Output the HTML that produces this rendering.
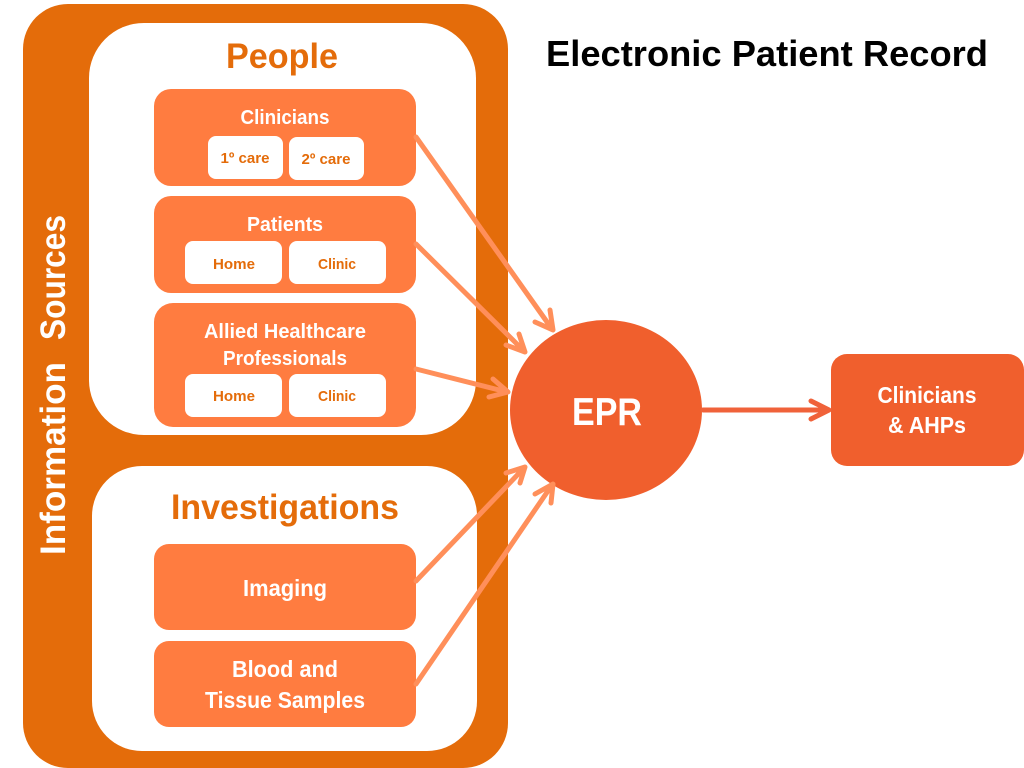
<!DOCTYPE html>
<html><head><meta charset="utf-8"><style>
html,body{margin:0;padding:0;background:#fff}
svg{display:block}
text{font-family:"Liberation Sans",sans-serif;font-weight:bold;text-anchor:middle}
.w{fill:#fff}.o{fill:#E46C0A}
</style></head><body>
<svg width="1024" height="768" viewBox="0 0 1024 768" xmlns="http://www.w3.org/2000/svg">
<rect x="23" y="4" width="485" height="764" rx="45" fill="#E46C0A"/>
<rect x="89" y="23" width="387" height="412" rx="55" fill="#fff"/>
<rect x="92" y="466" width="385" height="285" rx="50" fill="#fff"/>
<g fill="#FF7C40">
<rect x="154" y="89" width="262" height="97" rx="17"/>
<rect x="154" y="196" width="262" height="97" rx="17"/>
<rect x="154" y="303" width="262" height="124" rx="19"/>
<rect x="154" y="544" width="262" height="86" rx="15"/>
<rect x="154" y="641" width="262" height="86" rx="15"/>
</g>
<g fill="#fff">
<rect x="208" y="136" width="75" height="43" rx="8"/>
<rect x="289" y="137" width="75" height="43" rx="8"/>
<rect x="185" y="241" width="97" height="43" rx="8"/>
<rect x="289" y="241" width="97" height="43" rx="8"/>
<rect x="185" y="374" width="97" height="43" rx="8"/>
<rect x="289" y="374" width="97" height="43" rx="8"/>
</g>
<ellipse cx="606" cy="410" rx="96" ry="90" fill="#F05F2D"/>
<rect x="831" y="354" width="193" height="112" rx="16" fill="#F05F2D"/>
<g fill="none" stroke="#FF8F5A" stroke-width="5" stroke-linecap="round" stroke-linejoin="round">
<path d="M416 137L552 329M535 322L553 330L550 310"/>
<path d="M416 244L524 351M506 345L525 352L519 334"/>
<path d="M416 369L507 392M489 397L508 392L493 379"/>
<path d="M416 581L524 468M506 473L525 467L520 483"/>
<path d="M416 684L552 485M535 494L553 484L551 503"/>
</g>
<path d="M703 410L828 410M811 401L829 410L811 419" fill="none" stroke="#F0623A" stroke-width="5" stroke-linecap="round" stroke-linejoin="round"/>
<text x="282" y="68" font-size="35" textLength="112" lengthAdjust="spacingAndGlyphs" class="o">People</text>
<text x="285" y="519" font-size="35" textLength="228" lengthAdjust="spacingAndGlyphs" class="o">Investigations</text>
<text x="767" y="66" font-size="36" textLength="442" lengthAdjust="spacingAndGlyphs" fill="#000">Electronic Patient Record</text>
<text x="285" y="124" font-size="20" textLength="89" lengthAdjust="spacingAndGlyphs" class="w">Clinicians</text>
<text x="285" y="231" font-size="20" textLength="76" lengthAdjust="spacingAndGlyphs" class="w">Patients</text>
<text x="285" y="338" font-size="20" textLength="162" lengthAdjust="spacingAndGlyphs" class="w">Allied Healthcare</text>
<text x="285" y="365" font-size="20" textLength="124" lengthAdjust="spacingAndGlyphs" class="w">Professionals</text>
<text x="245" y="163" font-size="15" textLength="49" lengthAdjust="spacingAndGlyphs" class="o">1º care</text>
<text x="326" y="164" font-size="15" textLength="49" lengthAdjust="spacingAndGlyphs" class="o">2º care</text>
<text x="234" y="269" font-size="15" textLength="42" lengthAdjust="spacingAndGlyphs" class="o">Home</text>
<text x="337" y="269" font-size="15" textLength="38" lengthAdjust="spacingAndGlyphs" class="o">Clinic</text>
<text x="234" y="401" font-size="15" textLength="42" lengthAdjust="spacingAndGlyphs" class="o">Home</text>
<text x="337" y="401" font-size="15" textLength="38" lengthAdjust="spacingAndGlyphs" class="o">Clinic</text>
<text x="285" y="596" font-size="23" textLength="84" lengthAdjust="spacingAndGlyphs" class="w">Imaging</text>
<text x="285" y="677" font-size="23" textLength="106" lengthAdjust="spacingAndGlyphs" class="w">Blood and</text>
<text x="285" y="708" font-size="23" textLength="160" lengthAdjust="spacingAndGlyphs" class="w">Tissue Samples</text>
<text x="607" y="425" font-size="39" textLength="70" lengthAdjust="spacingAndGlyphs" class="w">EPR</text>
<text x="927" y="403" font-size="23" textLength="99" lengthAdjust="spacingAndGlyphs" class="w">Clinicians</text>
<text x="927" y="433" font-size="23" textLength="78" lengthAdjust="spacingAndGlyphs" class="w">&amp; AHPs</text>
<text transform="translate(65 458.5) rotate(-90)" font-size="35" textLength="193" lengthAdjust="spacingAndGlyphs" class="w">Information</text>
<text transform="translate(65 277.5) rotate(-90)" font-size="35" textLength="125" lengthAdjust="spacingAndGlyphs" class="w">Sources</text>
</svg>
</body></html>
